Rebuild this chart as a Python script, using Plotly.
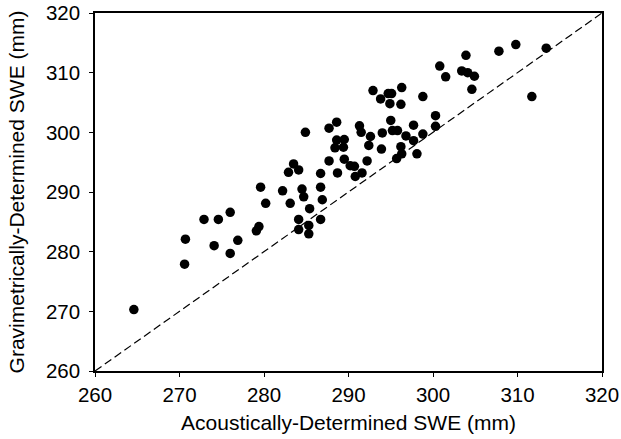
import plotly.graph_objects as go

acoustic_swe = [
    264.6, 270.6, 270.7, 272.9, 274.6, 274.1, 276.0, 276.0, 276.9, 279.1,
    279.4, 279.6, 280.2, 282.2, 283.1, 284.5, 284.7, 285.4, 284.1, 284.1,
    285.3, 285.3, 286.7, 286.9, 286.7, 284.9, 287.7, 288.6, 288.6, 289.5,
    288.4, 289.4, 287.7, 289.5, 283.5, 282.9, 284.1, 286.7, 288.7, 290.2,
    290.7, 290.8, 291.6, 291.3, 291.5, 292.6, 292.4, 292.2, 292.9, 293.8,
    294.7, 295.1, 294.9, 296.2, 296.3, 298.8, 295.0, 295.2, 295.8, 294.0,
    293.9, 296.2, 296.3, 295.7, 296.8, 297.7, 297.7, 298.1, 298.8, 300.3,
    300.3, 300.8, 301.5, 303.9, 303.4, 304.1, 304.9, 304.6, 307.8, 309.8,
    313.4, 311.7,
]
gravimetric_swe = [
    270.3, 277.9, 282.1, 285.4, 285.4, 281.0, 286.6, 279.7, 281.9, 283.5,
    284.2, 290.8, 288.1, 290.2, 288.1, 290.5, 289.2, 287.2, 285.4, 283.7,
    284.4, 283.0, 290.8, 288.7, 285.4, 300.0, 300.7, 301.7, 298.7, 298.8,
    297.4, 297.5, 295.2, 295.5, 294.7, 293.3, 293.7, 293.1, 293.2, 294.4,
    294.3, 292.6, 293.2, 301.1, 300.0, 299.3, 297.8, 295.2, 307.0, 305.6,
    306.5, 306.5, 304.8, 304.7, 307.5, 306.0, 302.0, 300.3, 300.3, 299.9,
    297.2, 297.6, 296.4, 295.6, 299.4, 301.2, 298.6, 296.4, 299.7, 302.8,
    301.0, 311.1, 309.3, 312.9, 310.3, 310.0, 309.4, 307.2, 313.6, 314.7,
    314.1, 306.0,
]

axis_range = [260, 320]
tick_values = [260, 270, 280, 290, 300, 310, 320]
one_to_one = [260, 320]

FONT = "Liberation Sans, Arial, sans-serif"

fig = go.Figure()
fig.add_trace(go.Scatter(
    x=one_to_one, y=one_to_one, mode="lines",
    line=dict(color="black", width=1.2, dash="8px,4px"),
    showlegend=False, hoverinfo="skip",
))
fig.add_trace(go.Scatter(
    x=acoustic_swe, y=gravimetric_swe, mode="markers",
    marker=dict(color="black", size=9.5, line=dict(width=0)),
    showlegend=False,
))

axis_common = dict(
    range=axis_range, tickvals=tick_values, automargin=False,
    showgrid=False, zeroline=False,
    showline=True, linecolor="black", linewidth=1.5, mirror=True,
    ticks="outside", ticklen=4, tickcolor="black", tickwidth=1.2,
    tickfont=dict(family=FONT, size=20.5, color="black"),
    ticklabeloverflow="allow",
)
fig.update_xaxes(**axis_common, ticklabelstandoff=1,
                 title=dict(text="Acoustically-Determined SWE (mm)",
                            font=dict(family=FONT, size=21, color="black"),
                            standoff=10))
fig.update_yaxes(**axis_common, ticklabelstandoff=5,
                 title=dict(text="Gravimetrically-Determined SWE (mm)",
                            font=dict(family=FONT, size=21, color="black"),
                            standoff=16))

fig.update_layout(
    width=621, height=439,
    margin=dict(l=95, r=19, t=13, b=68),
    plot_bgcolor="white", paper_bgcolor="white",
)

fig.write_html(
    "out.html",
    config={"displayModeBar": False},
    post_script="document.body.style.margin='0';document.body.style.padding='0';",
)
